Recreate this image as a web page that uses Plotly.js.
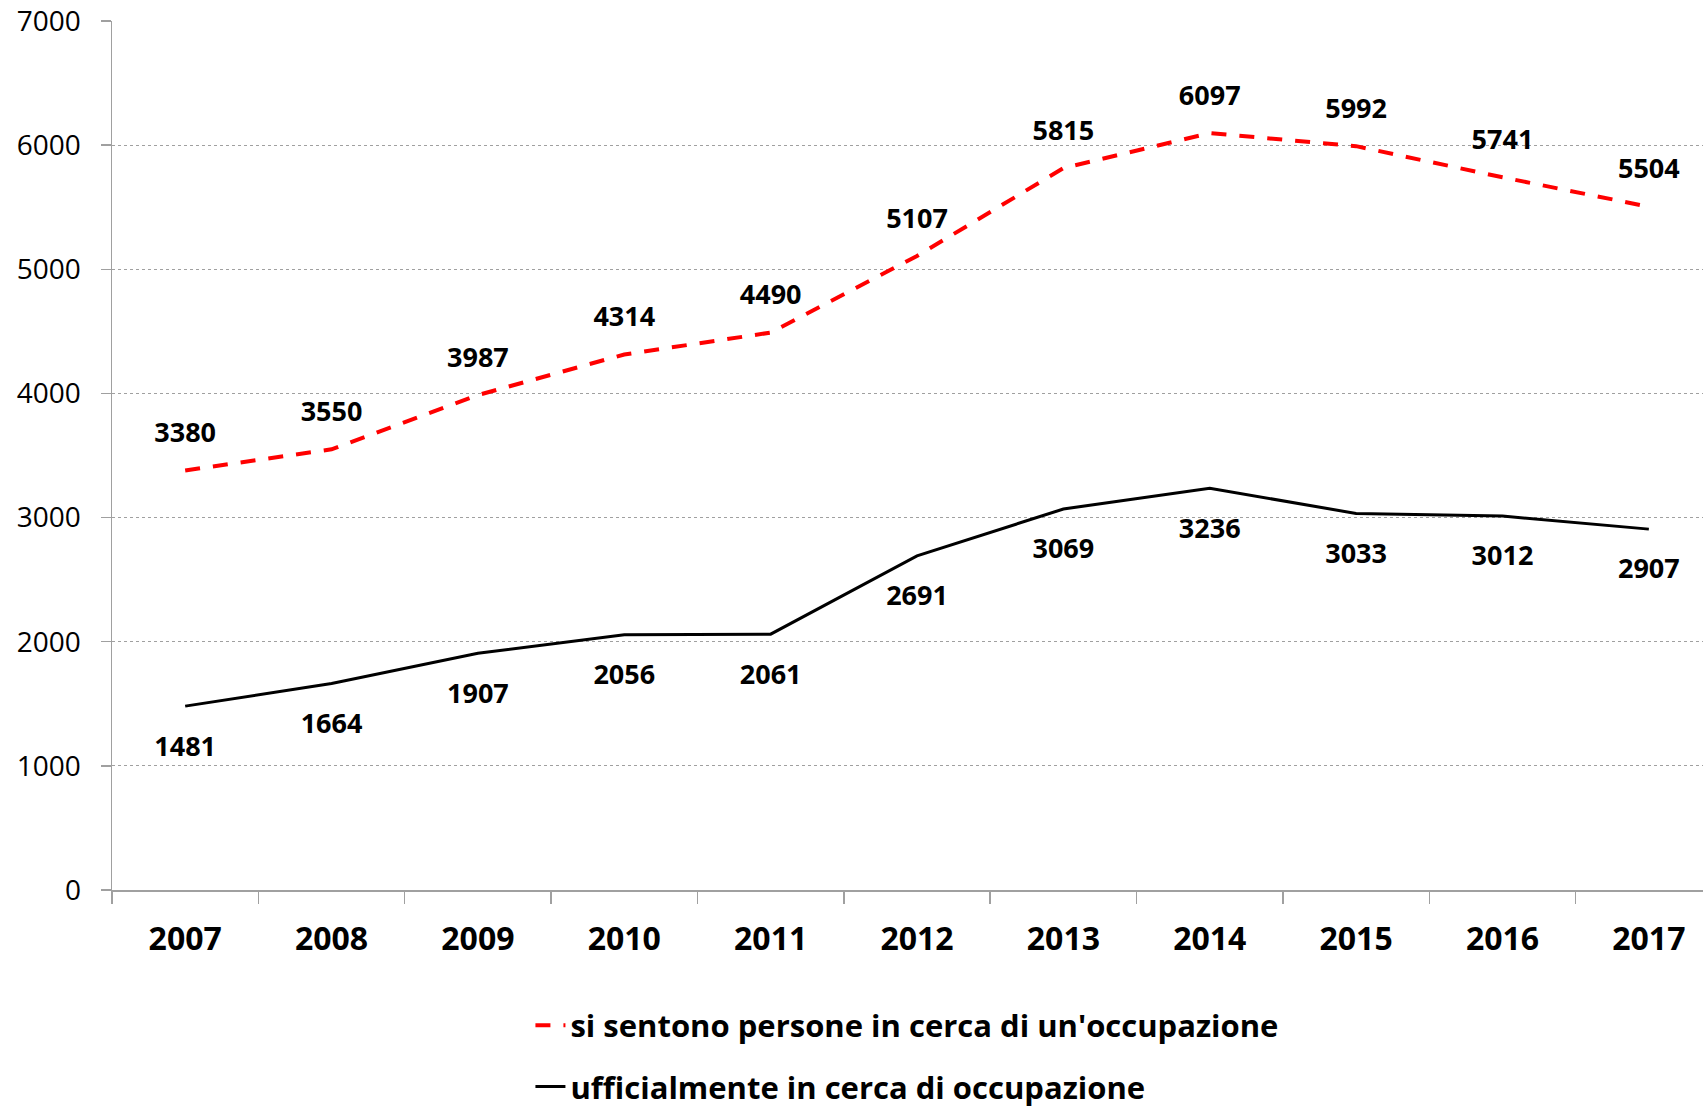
<!DOCTYPE html>
<html>
<head>
<meta charset="utf-8">
<script src="https://cdn.plot.ly/plotly-3.0.1.min.js"></script>
<style>html,body{margin:0;padding:0;overflow:hidden;background:#fff;}#chart{width:1703px;height:1111px;}</style>
</head>
<body>
<div id="chart"></div>
<script>
const years = ["2007","2008","2009","2010","2011","2012","2013","2014","2015","2016","2017"];
const sentono = [3380, 3550, 3987, 4314, 4490, 5107, 5815, 6097, 5992, 5741, 5504];
const ufficiali = [1481, 1664, 1907, 2056, 2061, 2691, 3069, 3236, 3033, 3012, 2907];
const nameSentono = "si sentono persone in cerca di un'occupazione";
const nameUfficiali = "ufficialmente in cerca di occupazione";
const yTicks = [0, 1000, 2000, 3000, 4000, 5000, 6000, 7000];

const FONT = "Open Sans, Noto Sans, DejaVu Sans, sans-serif";
const labelFont = {family: FONT, size: 27, color: '#000', weight: 'bold'};

const traces = [
  {x: years, y: sentono, name: nameSentono, type: 'scatter', mode: 'lines',
   line: {color: '#ff0000', width: 4, dash: '15px,13px'}, legendgroup: 'a'},
  {x: years, y: ufficiali, name: nameUfficiali, type: 'scatter', mode: 'lines',
   line: {color: '#000000', width: 3}, legendgroup: 'b'},
  {x: years, y: sentono, text: sentono.map(String), type: 'scatter', mode: 'markers+text',
   marker: {size: 33, opacity: 0, color: '#fff'}, textposition: 'top center',
   textfont: labelFont, showlegend: false, cliponaxis: false, hoverinfo: 'skip'},
  {x: years, y: ufficiali, text: ufficiali.map(String), type: 'scatter', mode: 'markers+text',
   marker: {size: 45, opacity: 0, color: '#fff'}, textposition: 'bottom center',
   textfont: labelFont, showlegend: false, cliponaxis: false, hoverinfo: 'skip'}
];

const layout = {
  width: 1703, height: 1111,
  margin: {l: 112, r: 0, t: 21, b: 221, autoexpand: false},
  paper_bgcolor: '#fff', plot_bgcolor: '#fff',
  font: {family: FONT, color: '#000'},
  showlegend: true,
  legend: {x: 0.263, y: -0.125, xanchor: 'left', yanchor: 'top', orientation: 'v',
    traceorder: 'grouped', tracegroupgap: 18,
    font: {family: FONT, size: 31, color: '#000', weight: 'bold'}, bgcolor: 'rgba(0,0,0,0)'},
  xaxis: {type: 'category', range: [-0.5, 10.37], tickson: 'boundaries',
    ticks: 'outside', ticklen: 12, tickcolor: '#a0a0a0', tickwidth: 1.5,
    showline: true, linecolor: '#a0a0a0', linewidth: 1.5, showgrid: false, zeroline: false,
    tickfont: {family: FONT, size: 32, color: '#000', weight: 'bold'}, ticklabelstandoff: 20,
    fixedrange: true},
  yaxis: {range: [0, 7000], tickvals: yTicks, ticktext: yTicks.map(String),
    ticks: 'outside', ticklen: 10, tickcolor: '#a0a0a0', tickwidth: 1.5,
    showline: true, linecolor: '#a0a0a0', linewidth: 1.5, zeroline: false,
    showgrid: true, gridcolor: '#a0a0a0', gridwidth: 1, griddash: 'dot',
    tickfont: {family: FONT, size: 28, color: '#000'}, ticklabelstandoff: 14,
    fixedrange: true}
};

Plotly.newPlot('chart', traces, layout, {displayModeBar: false, staticPlot: true});
</script>
</body>
</html>
